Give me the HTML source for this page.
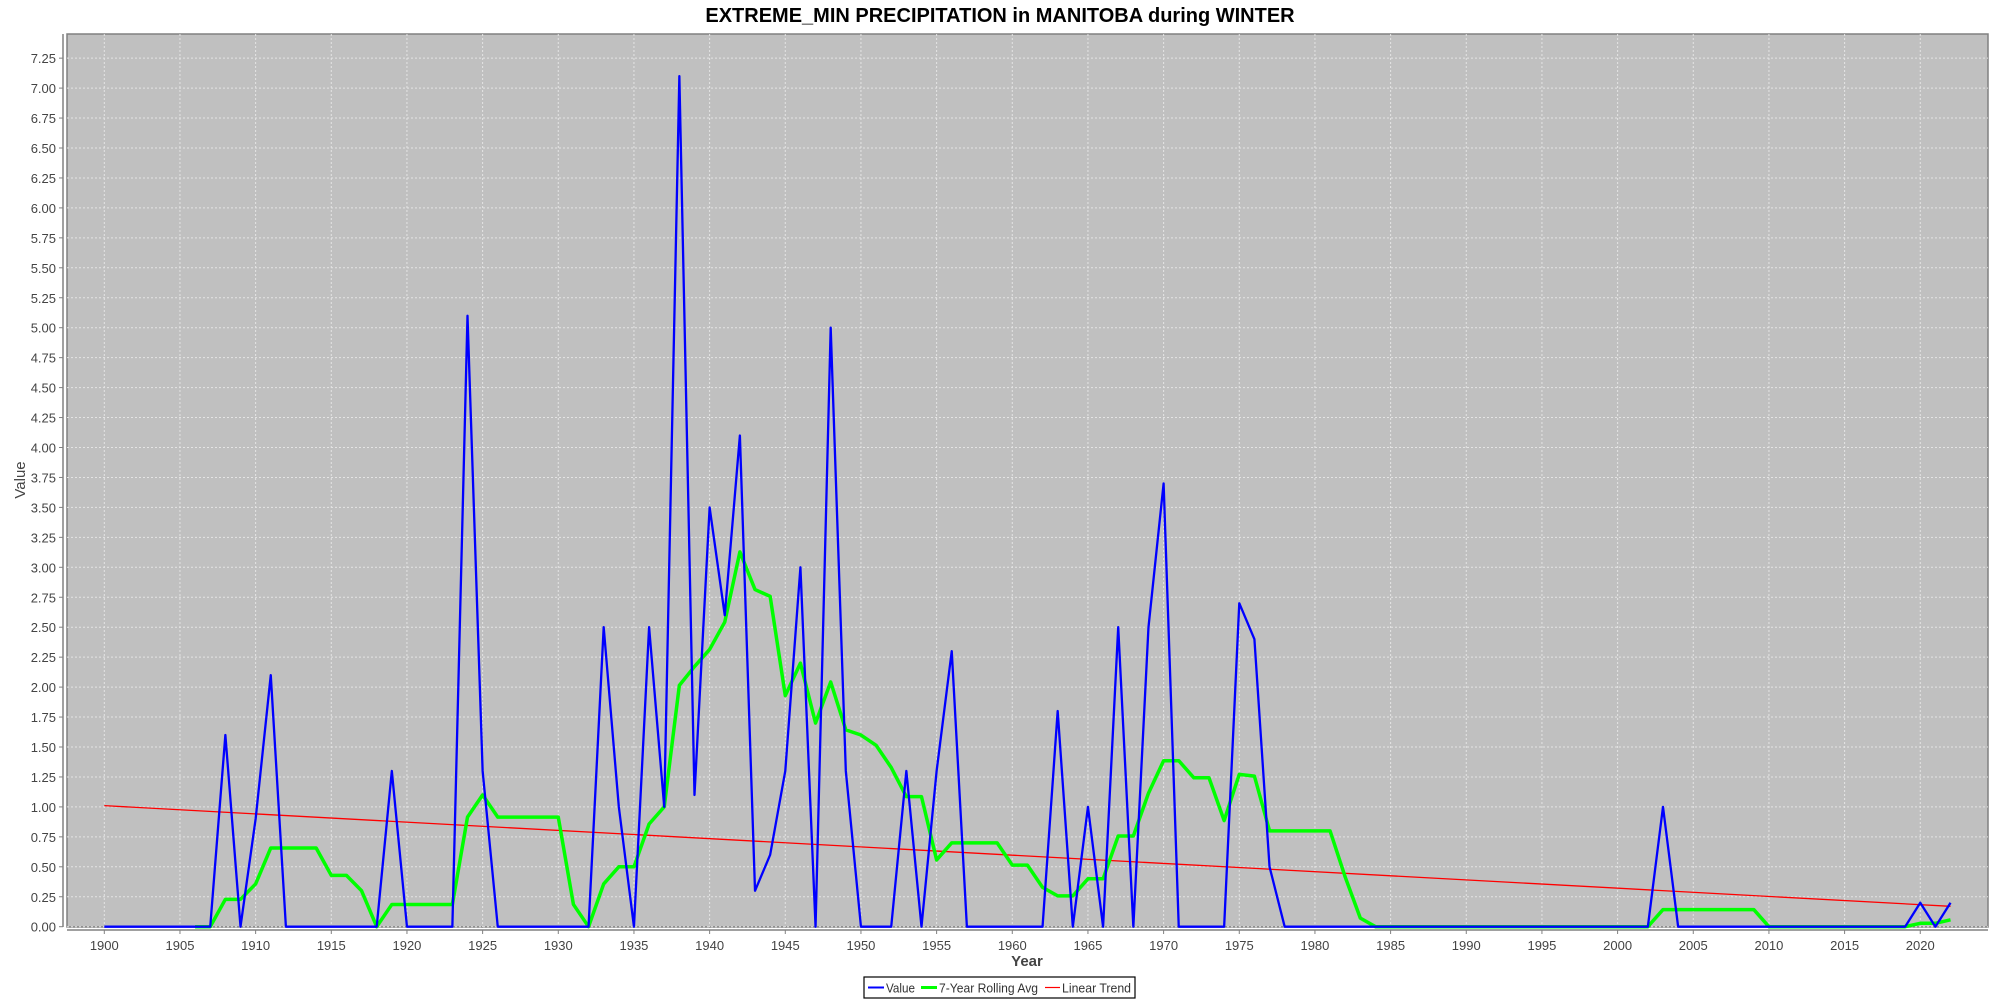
<!DOCTYPE html>
<html><head><meta charset="utf-8"><style>
body{margin:0;background:#fff;}
svg{display:block;font-family:"Liberation Sans","DejaVu Sans",sans-serif;}
</style></head><body>
<svg id="chart" width="2000" height="1000">
<text x="1000" y="22" text-anchor="middle" font-size="20" font-weight="bold" fill="#000">EXTREME_MIN PRECIPITATION in MANITOBA during WINTER</text>
<rect x="67" y="34" width="1921" height="893" fill="#c0c0c0" stroke="#808080" stroke-width="1.5"/>
<g id="grid"></g><g id="axes"></g><g id="series"></g>
<text x="1027" y="966" text-anchor="middle" font-size="15" font-weight="bold" fill="#444">Year</text>
<text transform="translate(25,480) rotate(-90)" text-anchor="middle" font-size="15" fill="#444">Value</text>
<g>
<rect x="864" y="977" width="271" height="21" fill="#fff" stroke="#000" stroke-width="1.2"/>
<line x1="868" y1="987.5" x2="884" y2="987.5" stroke="#0000ff" stroke-width="2"/>
<text x="886" y="992.5" font-size="13" fill="#333" textLength="29" lengthAdjust="spacingAndGlyphs">Value</text>
<line x1="921" y1="987.5" x2="937" y2="987.5" stroke="#00ff00" stroke-width="3"/>
<text x="939" y="992.5" font-size="13" fill="#333" textLength="99" lengthAdjust="spacingAndGlyphs">7-Year Rolling Avg</text>
<line x1="1045" y1="987.5" x2="1060" y2="987.5" stroke="#ff0000" stroke-width="1.2"/>
<text x="1062" y="992.5" font-size="13" fill="#333" textLength="69" lengthAdjust="spacingAndGlyphs">Linear Trend</text>
</g>
</svg>
<script>
const startYear = 1900;
const values = [0,0,0,0,0,0,0,0,1.6,0, 0.9,2.1,0,0,0,0,0,0,0,1.3,
0,0,0,0,5.1,1.3,0,0,0,0, 0,0,0,2.5,1.0,0,2.5,1.0,7.1,1.1,
3.5,2.6,4.1,0.3,0.6,1.3,3.0,0,5.0,1.3, 0,0,0,1.3,0,1.3,2.3,0,0,0,
0,0,0,1.8,0,1.0,0,2.5,0,2.5, 3.7,0,0,0,0,2.7,2.4,0.5,0,0,
0,0,0,0,0,0,0,0,0,0, 0,0,0,0,0,0,0,0,0,0,
0,0,0,1.0,0,0,0,0,0,0, 0,0,0,0,0,0,0,0,0,0, 0.2,0,0.2];
const yTicks = [0,0.25,0.5,0.75,1,1.25,1.5,1.75,2,2.25,2.5,2.75,3,3.25,3.5,3.75,4,4.25,4.5,4.75,5,5.25,5.5,5.75,6,6.25,6.5,6.75,7,7.25];
const xTicks = [1900,1905,1910,1915,1920,1925,1930,1935,1940,1945,1950,1955,1960,1965,1970,1975,1980,1985,1990,1995,2000,2005,2010,2015,2020];

const NS='http://www.w3.org/2000/svg';
const X = yr => 104.3 + (yr-1900)*15.133;
const Y = v => 926.7 - v*119.8;
function mk(tag, attrs, parent){const e=document.createElementNS(NS,tag);for(const k in attrs)e.setAttribute(k,attrs[k]);parent.appendChild(e);return e;}
const grid=document.getElementById('grid'), axes=document.getElementById('axes'), series=document.getElementById('series');
mk('line',{x1:63,y1:34,x2:63,y2:927,stroke:'#808080','stroke-width':1.5},axes);
mk('line',{x1:67,y1:930,x2:1988,y2:930,stroke:'#808080','stroke-width':1.5},axes);
yTicks.forEach(t=>{
  const y=Y(t);
  const g=mk('line',{x1:67,y1:y,x2:1988,y2:y,stroke:'#e4e4e4','stroke-width':1,'stroke-dasharray':'2,2'},grid);
  
  
  mk('line',{x1:59,y1:y,x2:63,y2:y,stroke:'#808080'},axes);
  const tx=mk('text',{x:56,y:y+5,'text-anchor':'end','font-size':13,fill:'#444'},axes);
  tx.textContent=t.toFixed(2);
  
  
});
xTicks.forEach(t=>{
  const x=X(t);
  const g=mk('line',{x1:x,y1:34,x2:x,y2:927,stroke:'#e4e4e4','stroke-width':1,'stroke-dasharray':'2,2'},grid);
  
  
  mk('line',{x1:x,y1:930,x2:x,y2:934,stroke:'#808080'},axes);
  const tx=mk('text',{x:x,y:950,'text-anchor':'middle','font-size':13,fill:'#444'},axes);
  tx.textContent=t;
  
  
});
const n=values.length;let sx=0,sy=0,sxx=0,sxy=0;
values.forEach((v,i)=>{sx+=i;sy+=v;sxx+=i*i;sxy+=i*v;});
const slope=(n*sxy-sx*sy)/(n*sxx-sx*sx), icpt=(sy-slope*sx)/n;
const tr=mk('line',{x1:X(startYear),y1:Y(icpt),x2:X(startYear+n-1),y2:Y(icpt+slope*(n-1)),stroke:'#ff0000','stroke-width':1.3},series);


const rp=[];
for(let i=6;i<n;i++){let s=0;for(let j=i-6;j<=i;j++)s+=values[j];rp.push(X(startYear+i)+','+Y(s/7));}
const ra=mk('polyline',{points:rp.join(' '),fill:'none',stroke:'#00ff00','stroke-width':3.5,'stroke-linejoin':'round'},series);


const vp=values.map((v,i)=>X(startYear+i)+','+Y(v)).join(' ');
const vl=mk('polyline',{points:vp,fill:'none',stroke:'#0000ff','stroke-width':2.3,'stroke-linejoin':'round'},series);


</script>
</body></html>
